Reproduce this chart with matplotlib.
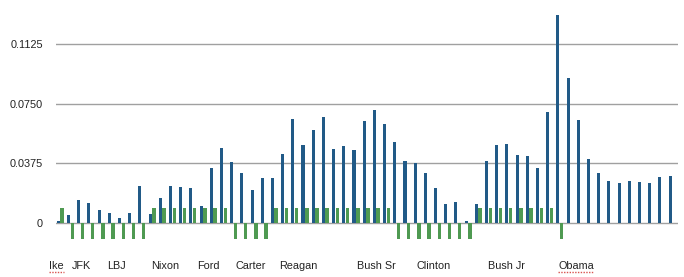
import numpy as np
import matplotlib.pyplot as plt
from matplotlib.lines import Line2D

plt.rcParams['font.family'] = ['Liberation Sans', 'DejaVu Sans']

# yearly values (blue) and party marker (green)
blue = [0.0015, 0.0052, 0.0146, 0.0128, 0.0084, 0.0065, 0.0034, 0.0065, 0.0234, 0.0059,
        0.0159, 0.0234, 0.0228, 0.0222, 0.0109, 0.0348, 0.0473, 0.0383, 0.0312, 0.0209,
        0.0285, 0.0285, 0.0435, 0.0655, 0.0492, 0.0586, 0.0668, 0.0467, 0.0486, 0.0461,
        0.0643, 0.0712, 0.0624, 0.0511, 0.0391, 0.0375, 0.0316, 0.0222, 0.0122, 0.0134,
        0.0015, 0.0122, 0.0391, 0.0492, 0.0498, 0.0429, 0.0423, 0.0348, 0.0700, 0.1309,
        0.0913, 0.0649, 0.0404, 0.0316, 0.0266, 0.0253, 0.0266, 0.0260, 0.0253, 0.0291,
        0.0297]
green = [0.0095, -0.01, -0.01, -0.01, -0.01, -0.01, -0.01, -0.01, -0.01, 0.0095,
         0.0095, 0.0095, 0.0095, 0.0095, 0.0095, 0.0095, 0.0095, -0.01, -0.01, -0.01,
         -0.01, 0.0095, 0.0095, 0.0095, 0.0095, 0.0095, 0.0095, 0.0095, 0.0095, 0.0095,
         0.0095, 0.0095, 0.0095, -0.01, -0.01, -0.01, -0.01, -0.01, -0.01, -0.01,
         -0.01, 0.0095, 0.0095, 0.0095, 0.0095, 0.0095, 0.0095, 0.0095, 0.0095, -0.01,
         0, 0, 0, 0, 0, 0, 0, 0, 0, 0,
         0]

presidents = ['Ike', 'JFK', 'LBJ', 'Nixon', 'Ford', 'Carter', 'Reagan',
              'Bush Sr', 'Clinton', 'Bush Jr', 'Obama']
label_pos = [-0.88, 1.37, 4.81, 9.09, 13.63, 17.4, 21.62, 29.27, 35.15, 42.17, 49.04]
flagged = ['Ike', 'Obama']   # spell-check squiggle in the original

yticks = [0, 0.0375, 0.075, 0.1125]
ytick_labels = ['0', '0.0375', '0.0750', '0.1125']

x = np.arange(len(blue))

fig = plt.figure(figsize=(6.84, 2.77), dpi=100)
ax = fig.add_axes([56/684, 32/277, 622/684, 233/277])

ax.bar(x, blue, width=0.3, color='#215a87', zorder=3)
ax.bar(x + 0.37, green, width=0.34, color='#4f9a52', zorder=3)

ax.set_xlim(-0.23, 60.78)
ax.set_ylim(-0.01385, 0.1328)
ax.set_yticks(yticks, ytick_labels)
ax.set_xticks([])
ax.tick_params(axis='y', length=0, pad=9.5, labelsize=7.8, labelcolor='#222222')
ax.grid(axis='y', color='#a0a0a0', linewidth=1.0, zorder=1)
for s in ax.spines.values():
    s.set_visible(False)

texts = []
for name, p in zip(presidents, label_pos):
    t = ax.text(p, -0.09, name, transform=ax.get_xaxis_transform(),
                ha='left', va='center', fontsize=7.8, color='#222222')
    texts.append(t)

fig.canvas.draw()
r = fig.canvas.get_renderer()
for t in texts:
    if t.get_text() in flagged:
        bb = t.get_window_extent(r)
        y = bb.y0 - 1.5
        fig.add_artist(Line2D([bb.x0, bb.x1], [y, y], transform=None,
                              color='#d9534f', linewidth=1.0, linestyle=(0, (1, 1))))

fig.savefig('out.png', dpi=100)
